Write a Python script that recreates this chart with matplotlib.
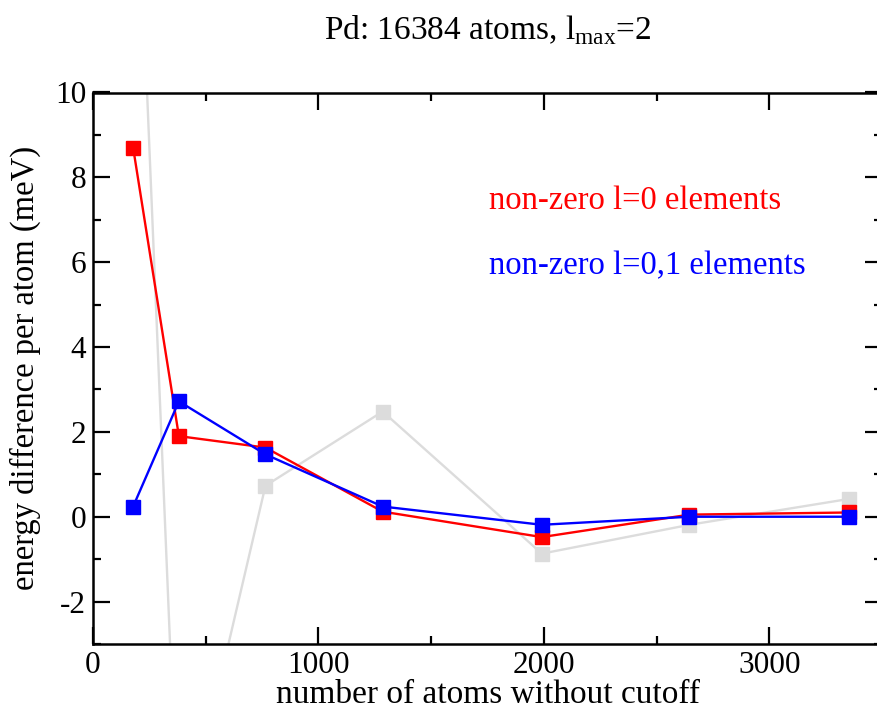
import matplotlib
matplotlib.use("Agg")
import matplotlib.pyplot as plt
from matplotlib.ticker import MultipleLocator

# atoms kept without cutoff, and energy differences per atom (meV)
n_atoms = [178, 381, 765, 1285, 1991, 2646, 3354]
e_full = [17.9, -8.0, 0.73, 2.48, -0.87, -0.19, 0.42]
e_l0 = [8.70, 1.90, 1.63, 0.12, -0.48, 0.05, 0.10]
e_l01 = [0.24, 2.72, 1.47, 0.24, -0.19, 0.00, 0.00]

title = "Pd: 16384 atoms, l$_{\\mathrm{max}}$=2"
xlabel = "number of atoms without cutoff"
ylabel = "energy difference per atom (meV)"
label_l0 = "non-zero l=0 elements"
label_l01 = "non-zero l=0,1 elements"

plt.rcParams["font.family"] = ["Liberation Serif", "DejaVu Serif"]
plt.rcParams["mathtext.fontset"] = "custom"
plt.rcParams["mathtext.rm"] = "Liberation Serif"
plt.rcParams["axes.unicode_minus"] = False

fig = plt.figure(figsize=(8.77, 7.11), dpi=100)
W, H = 877, 711
left, right, top, bottom = 93, 882, 92.5, 644
ax = fig.add_axes([left / W, 1 - bottom / H, (right - left) / W, (bottom - top) / H])

ax.plot(n_atoms, e_full, color="#dcdcdc", lw=1.7, marker="s", ms=10, mec="#dcdcdc", zorder=1)
ax.plot(n_atoms, e_l0, color="#ff0000", lw=1.7, marker="s", ms=10, mec="#ff0000", zorder=2)
ax.plot(n_atoms, e_l01, color="#0000ff", lw=1.7, marker="s", ms=10, mec="#0000ff", zorder=3)

ax.set_xlim(0, 3500)
ax.set_ylim(-3, 10)
ax.xaxis.set_major_locator(MultipleLocator(1000))
ax.xaxis.set_minor_locator(MultipleLocator(500))
ax.yaxis.set_major_locator(MultipleLocator(2))
ax.yaxis.set_minor_locator(MultipleLocator(1))
ax.tick_params(which="both", direction="in", top=True, right=True, width=1.6,
               labelsize=22.5, pad=5)
ax.tick_params(which="major", length=12)
ax.tick_params(which="minor", length=6)
for sp in ax.spines.values():
    sp.set_linewidth(1.8)

ax.set_xlabel(xlabel, fontsize=24, labelpad=0)
ax.set_ylabel(ylabel, fontsize=23.5, labelpad=10)
fig.text(0.5 * (left + right) / W, 1 - 30 / H, title, fontsize=24,
         ha="center", va="center")

ax.text(0.502, 0.803, label_l0, color="#ff0000", fontsize=23.5,
        transform=ax.transAxes, va="center")
ax.text(0.502, 0.685, label_l01, color="#0000ff", fontsize=23.5,
        transform=ax.transAxes, va="center")

fig.savefig("out.png", dpi=100)
